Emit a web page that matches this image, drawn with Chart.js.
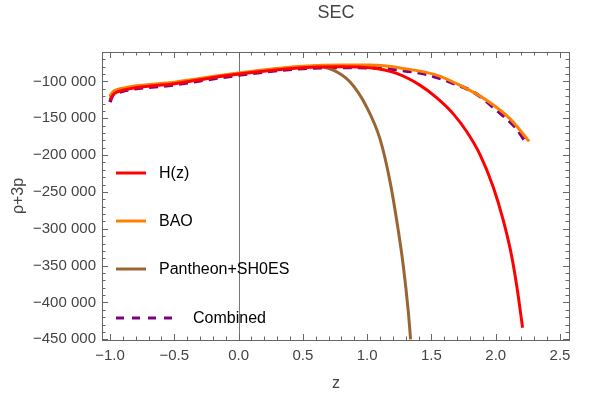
<!DOCTYPE html>
<html>
<head>
<meta charset="utf-8">
<script src="https://cdn.jsdelivr.net/npm/chart.js@4.4.0/dist/chart.umd.min.js"></script>
<style>
  html, body { margin: 0; padding: 0; background: #fff; }
</style>
</head>
<body>
<canvas id="graficoSEC" width="600" height="394"></canvas>
<script>
// Datos (z, rho+3p)
const zHz = [-1.0, -0.97, -0.9, -0.5, 0.0, 0.5, 0.8, 1.022, 1.229, 1.41, 1.54, 1.67, 1.774, 1.877, 1.98, 2.058, 2.124, 2.17, 2.209];
const secHz = [-125000, -117000, -112000, -103000, -90000, -81500, -80000, -81500, -89100, -105000, -122000, -144000, -168000, -199000, -243000, -288000, -337000, -385000, -434300];

const zBAO = [-1.0, -0.97, -0.9, -0.5, 0.0, 0.3, 0.5, 0.8, 1.022, 1.281, 1.54, 1.747, 1.929, 2.11, 2.26];
const secBAO = [-119000, -113000, -109000, -101000, -88500, -82500, -79500, -77800, -77800, -82300, -91400, -107400, -125500, -150400, -181300];

const zPan = [-1.0, -0.97, -0.9, -0.5, 0.0, 0.25, 0.5, 0.607, 0.737, 0.866, 0.996, 1.1, 1.177, 1.242, 1.281, 1.32, 1.338];
const secPan = [-121000, -115000, -110500, -102000, -89500, -84000, -80000, -79200, -84600, -100500, -134600, -178000, -235000, -302000, -350000, -412000, -450000];

const zComb = [-1.0, -0.98, -0.95, -0.5, 0.0, 0.5, 0.8, 1.047, 1.255, 1.463, 1.67, 1.85, 2.007, 2.162, 2.227];
const secComb = [-128000, -119000, -116000, -104500, -91400, -82300, -81000, -81500, -84600, -90500, -102500, -117000, -139000, -164000, -180500];

const nombres = ['H(z)', 'BAO', 'Pantheon+SH0ES', 'Combined'];
const colores = ['#ff0000', '#ff8000', '#996633', '#800080'];
const ticksX = [-1.0, -0.5, 0.0, 0.5, 1.0, 1.5, 2.0, 2.5];
const ticksY = [-100000, -150000, -200000, -250000, -300000, -350000, -400000, -450000];

const puntos = (xs, ys) => xs.map((x, i) => ({ x: x, y: ys[i] }));
const fuente = '"Liberation Sans", Arial, sans-serif';

function serie(i, xs, ys) {
    return {
        label: nombres[i],
        data: puntos(xs, ys),
        borderColor: colores[i],
        borderWidth: i === 3 ? 3.5 : 3,
        pointRadius: 0,
        showLine: true,
        fill: false,
        cubicInterpolationMode: 'monotone',
        borderDash: i === 3 ? [9, 6] : []
    };
}

const datos = {
    datasets: [
        serie(0, zHz, secHz),
        serie(1, zBAO, secBAO),
        serie(2, zPan, secPan),
        serie(3, zComb, secComb)
    ]
};

function numero(v) {
    const s = Math.abs(v).toString().replace(/\B(?=(\d{3})+(?!\d))/g, ' ');
    return (v < 0 ? '\u2212' : '') + s;
}

// Marco, ticks hacia dentro y linea en z = 0
const marco = {
    id: 'marco',
    beforeDatasetsDraw(chart) {
        const { ctx, chartArea: a, scales: { x } } = chart;
        ctx.save();
        ctx.strokeStyle = '#777';
        ctx.lineWidth = 1;
        const x0 = Math.round(x.getPixelForValue(0)) + 0.5;
        ctx.beginPath();
        ctx.moveTo(x0, a.top);
        ctx.lineTo(x0, a.bottom);
        ctx.stroke();
        ctx.restore();
    },
    afterDraw(chart) {
        const { ctx, chartArea: a, scales: { x, y } } = chart;
        ctx.save();
        ctx.strokeStyle = '#666';
        ctx.lineWidth = 1;
        ctx.strokeRect(Math.round(a.left) + 0.5, Math.round(a.top) + 0.5,
            Math.round(a.right - a.left), Math.round(a.bottom - a.top));
        ctx.beginPath();
        for (let k = -10; k <= 25; k++) {
            const px = Math.round(x.getPixelForValue(k / 10)) + 0.5;
            const len = k % 5 === 0 ? 6 : 3.5;
            ctx.moveTo(px, a.bottom); ctx.lineTo(px, a.bottom - len);
            ctx.moveTo(px, a.top); ctx.lineTo(px, a.top + len);
        }
        for (let k = -45; k <= -6; k++) {
            const py = Math.round(y.getPixelForValue(k * 10000)) + 0.5;
            const len = k % 5 === 0 ? 6 : 3.5;
            ctx.moveTo(a.left, py); ctx.lineTo(a.left + len, py);
            ctx.moveTo(a.right, py); ctx.lineTo(a.right - len, py);
        }
        ctx.stroke();

        // titulos
        ctx.fillStyle = '#444';
        ctx.font = '18px ' + fuente;
        ctx.textAlign = 'center';
        ctx.textBaseline = 'middle';
        ctx.fillText('SEC', 336, 13);
        ctx.font = '16px ' + fuente;
        ctx.fillText('z', 336, 384);
        ctx.save();
        ctx.translate(19, 196);
        ctx.rotate(-Math.PI / 2);
        ctx.fillText('\u03c1+3p', 0, 0);
        ctx.restore();

        // leyenda
        const filas = [173, 221, 269, 318];
        ctx.font = '16px ' + fuente;
        ctx.textAlign = 'left';
        chart.data.datasets.forEach((ds, i) => {
            ctx.strokeStyle = ds.borderColor;
            ctx.lineWidth = 3;
            ctx.setLineDash(i === 3 ? [8, 8] : []);
            ctx.beginPath();
            ctx.moveTo(116, filas[i]);
            ctx.lineTo(i === 3 ? 180 : 146, filas[i]);
            ctx.stroke();
            ctx.setLineDash([]);
            ctx.fillStyle = '#000';
            ctx.fillText(ds.label, i === 3 ? 193 : 159, filas[i] + 1);
        });
        ctx.restore();
    }
};

const opciones = {
    responsive: false,
    animation: false,
    layout: { padding: { top: 52, right: 31, left: 0, bottom: 0 } },
    plugins: { legend: { display: false }, title: { display: false }, tooltip: { enabled: false } },
    scales: {
        x: {
            type: 'linear',
            min: -1.062,
            max: 2.57,
            grid: { display: false, drawTicks: false },
            border: { display: false },
            afterBuildTicks: (s) => { s.ticks = ticksX.map(v => ({ value: v })); },
            afterFit: (s) => { s.height = 54; },
            ticks: {
                padding: 7,
                color: '#444',
                font: { family: fuente, size: 15 },
                maxRotation: 0,
                callback: (v) => (v < 0 ? '\u2212' : '') + Math.abs(v).toFixed(1)
            }
        },
        y: {
            type: 'linear',
            min: -451000,
            max: -60000,
            grid: { display: false, drawTicks: false },
            border: { display: false },
            afterBuildTicks: (s) => { s.ticks = ticksY.map(v => ({ value: v })); },
            afterFit: (s) => { s.width = 102; },
            ticks: {
                padding: 6,
                color: '#444',
                font: { family: fuente, size: 15 },
                callback: (v) => numero(v)
            }
        }
    }
};

const ctx = document.getElementById('graficoSEC').getContext('2d');
const grafico = new Chart(ctx, {
    type: 'scatter',
    data: datos,
    options: opciones,
    plugins: [marco]
});
</script>
</body>
</html>
